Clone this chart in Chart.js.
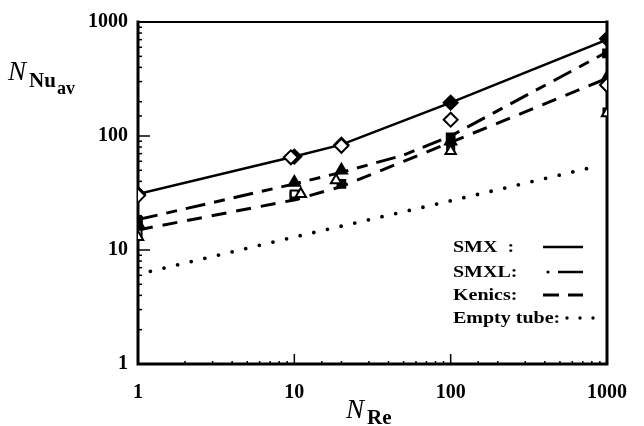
<!DOCTYPE html>
<html>
<head>
<meta charset="utf-8">
<script src="https://cdn.jsdelivr.net/npm/chart.js@4/dist/chart.umd.min.js"></script>
<style>
html, body { margin: 0; padding: 0; background: #fff; }
</style>
</head>
<body>
<canvas id="nuChart" width="644" height="426"></canvas>
<script>
// axis decades
const reTicks = [1, 10, 100, 1000];
const nuTicks = [1, 10, 100, 1000];

// correlation curves
const smxLineRe = [1, 10, 20, 100, 1000];
const smxLineNu = [31, 66, 84, 196, 700];
const smxlLineRe = [1, 10, 20, 50, 100, 1000];
const smxlLineNu = [18.5, 38, 48, 68, 100, 545];
const kenicsLineRe = [1, 10, 20, 50, 100, 1000];
const kenicsLineNu = [15, 27.5, 36, 60, 88, 320];
const tubeRe = [1.2, 10, 100, 800];
const tubeNu = [6.5, 13, 27, 53];

// measured points
const filledDiamondRe = [1, 10, 20, 100, 1000];
const filledDiamondNu = [31, 66, 84, 196, 712];
const openDiamondRe = [1, 9.5, 20, 100, 1000];
const openDiamondNu = [30, 65, 82, 139, 280];
const filledSquareRe = [1, 10, 20, 100, 1000];
const filledSquareNu = [18, 30, 38, 97, 530];
const openSquareRe = [1, 10, 100, 1000];
const openSquareNu = [14, 31, 76, 162];
const filledTriangleRe = [1, 10, 20, 100, 1000];
const filledTriangleNu = [17, 39, 50, 90, 324];
const openTriangleRe = [1, 11, 18.5, 100, 1000];
const openTriangleNu = [13, 31, 41, 74, 158];

const legendNames = ["SMX  :", "SMXL:", "Kenics:", "Empty tube:"];

const SERIF = "'Liberation Serif', 'DejaVu Serif', serif";

const pts = (xs, ys) => xs.map((x, i) => ({ x: x, y: ys[i] }));
const isDecade = (v, list) => list.some(t => Math.abs(t - v) < 1e-6 * t);

const curve = (xs, ys, dash, width, cap) => ({
	data: pts(xs, ys),
	showLine: true,
	borderColor: "#000",
	borderWidth: width,
	borderDash: dash,
	borderCapStyle: cap || "butt",
	pointRadius: 0,
	fill: false,
	order: 10
});
const marks = (xs, ys, style, r, filled, order) => ({
	data: pts(xs, ys),
	showLine: false,
	pointStyle: style,
	pointRadius: r,
	pointBackgroundColor: filled ? "#000" : "#fff",
	pointBorderColor: "#000",
	pointBorderWidth: 2,
	order: order
});

// frame, inward ticks, titles and the key
const decor = {
	id: "decor",
	beforeDatasetsDraw(chart) {
		const { ctx, chartArea: a, scales } = chart;
		ctx.save();
		ctx.strokeStyle = "#000";
		ctx.lineCap = "square";
		ctx.lineWidth = 2;
		ctx.beginPath(); ctx.moveTo(a.left, a.top); ctx.lineTo(a.right, a.top); ctx.stroke();
		ctx.lineWidth = 3;
		ctx.beginPath(); ctx.moveTo(a.left, a.top); ctx.lineTo(a.left, a.bottom); ctx.lineTo(a.right, a.bottom); ctx.lineTo(a.right, a.top); ctx.stroke();

		ctx.lineWidth = 1.5;
		ctx.lineCap = "butt";
		scales.y.ticks.forEach(t => {
			const py = scales.y.getPixelForValue(t.value);
			const len = isDecade(t.value, nuTicks) ? 12 : 4;
			ctx.beginPath(); ctx.moveTo(a.left, py); ctx.lineTo(a.left + len, py); ctx.stroke();
		});
		scales.x.ticks.forEach(t => {
			const px = scales.x.getPixelForValue(t.value);
			const len = isDecade(t.value, reTicks) ? 10 : 3;
			ctx.beginPath(); ctx.moveTo(px, a.bottom); ctx.lineTo(px, a.bottom - len); ctx.stroke();
		});
		ctx.restore();
	},
	afterDraw(chart) {
		const { ctx } = chart;
		ctx.save();
		ctx.fillStyle = "#000";
		ctx.textBaseline = "alphabetic";

		// y title N_Nu_av
		ctx.font = "italic 27px " + SERIF;
		ctx.fillText("N", 8, 80);
		ctx.font = "bold 21px " + SERIF;
		ctx.fillText("Nu", 29, 87);
		ctx.font = "bold 18px " + SERIF;
		ctx.fillText("av", 57, 94);

		// x title N_Re
		ctx.font = "italic 27px " + SERIF;
		ctx.fillText("N", 346, 418);
		ctx.font = "bold 21px " + SERIF;
		ctx.fillText("Re", 367, 424);

		// key
		const rows = [247, 272, 295, 318];
		ctx.font = "bold 16px " + SERIF;
		rows.forEach((y, i) => {
			ctx.save();
			ctx.translate(453, y + 5);
			ctx.scale(1.25, 1);
			ctx.fillText(legendNames[i], 0, 0);
			ctx.restore();
		});
		ctx.strokeStyle = "#000";
		ctx.lineWidth = 2.5;
		ctx.beginPath(); ctx.moveTo(543, rows[0]); ctx.lineTo(583, rows[0]); ctx.stroke();
		ctx.beginPath(); ctx.moveTo(558, rows[1]); ctx.lineTo(583, rows[1]); ctx.stroke();
		ctx.beginPath(); ctx.arc(548, rows[1], 1.6, 0, Math.PI * 2); ctx.fill();
		ctx.lineWidth = 3;
		ctx.beginPath(); ctx.moveTo(543, rows[2]); ctx.lineTo(559, rows[2]); ctx.stroke();
		ctx.beginPath(); ctx.moveTo(568, rows[2]); ctx.lineTo(583, rows[2]); ctx.stroke();
		[567, 580, 593].forEach(x => {
			ctx.beginPath(); ctx.arc(x, rows[3], 1.7, 0, Math.PI * 2); ctx.fill();
		});
		ctx.restore();
	}
};

const tickFont = { family: SERIF, size: 20, weight: "bold" };

new Chart(document.getElementById("nuChart"), {
	type: "scatter",
	data: {
		datasets: [
			curve(smxLineRe, smxLineNu, [], 2.5),
			curve(smxlLineRe, smxlLineNu, [20, 9, 11, 9], 3),
			curve(kenicsLineRe, kenicsLineNu, [15, 10], 3),
			curve(tubeRe, tubeNu, [0, 14], 3.8, "round"),
			marks(filledSquareRe, filledSquareNu, "rect", 5.5, true, 6),
			marks(filledTriangleRe, filledTriangleNu, "triangle", 6.5, true, 5),
			marks(openSquareRe, openSquareNu, "rect", 5, false, 4),
			marks(openTriangleRe, openTriangleNu, "triangle", 6, false, 3),
			marks(filledDiamondRe, filledDiamondNu, "rectRot", 7, true, 2),
			marks(openDiamondRe, openDiamondNu, "rectRot", 7, false, 1)
		]
	},
	options: {
		responsive: false,
		animation: false,
		devicePixelRatio: 1,
		layout: { padding: { top: 21, right: 23, left: 0, bottom: 0 } },
		plugins: { legend: { display: false }, tooltip: { enabled: false } },
		elements: { point: { hitRadius: 0 } },
		scales: {
			x: {
				type: "logarithmic",
				min: 1,
				max: 1000,
				grid: { display: false, drawTicks: false },
				border: { display: false },
				ticks: {
					font: tickFont,
					color: "#000",
					padding: 17,
					maxRotation: 0,
					autoSkip: false,
					callback: v => isDecade(v, reTicks) ? String(v) : ""
				},
				afterFit: s => { s.height = 62; }
			},
			y: {
				type: "logarithmic",
				min: 1,
				max: 1000,
				grid: { display: false, drawTicks: false },
				border: { display: false },
				ticks: {
					font: tickFont,
					color: "#000",
					padding: 10,
					autoSkip: false,
					callback: v => isDecade(v, nuTicks) ? String(v) : ""
				},
				afterFit: s => { s.width = 138; }
			}
		}
	},
	plugins: [decor]
});
</script>
</body>
</html>
